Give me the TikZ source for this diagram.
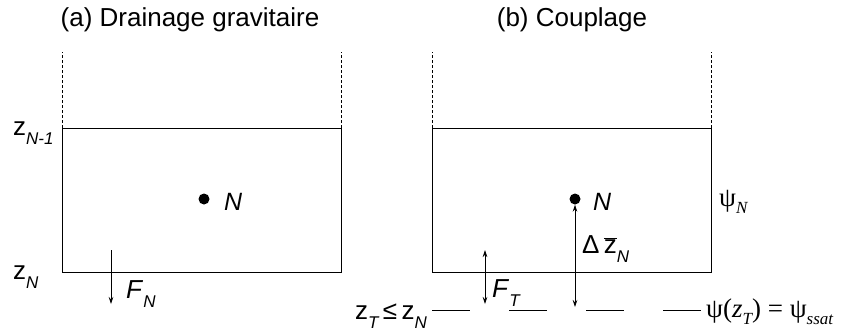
\documentclass[tikz,border=0pt]{standalone}
\usepackage{fontspec}
\setmainfont{Liberation Sans}
\newfontfamily\symbfont{Liberation Serif}
\usetikzlibrary{arrows.meta, positioning}

% subscripts sit well below the baseline in this figure
\newcommand{\lowsub}[1]{\raisebox{-9pt}{\fontsize{17}{17}\selectfont\itshape #1}}
\newcommand{\psisub}[1]{\raisebox{-7pt}{\fontsize{17}{17}\selectfont\itshape #1}}

\begin{document}
\begin{tikzpicture}[
  x=1pt, y=-1pt,
  >={Stealth[length=7pt,width=4.5pt]},
  wall/.style={draw, line width=0.8pt},
  open/.style={draw, line width=0.7pt, dash pattern=on 3pt off 2pt},
  dot/.style={circle, fill, inner sep=0pt, minimum size=11pt},
  flux/.style={draw, line width=0.7pt},
  lbl/.style={inner sep=0pt, anchor=base west, font=\fontsize{26}{28}\selectfont},
  ttl/.style={inner sep=0pt, anchor=base, font=\fontsize{26}{30}\selectfont},
  psi/.style={inner sep=0pt, anchor=base west, font=\symbfont\fontsize{27}{28}\selectfont}
  ]
  \useasboundingbox (0,0) rectangle (841,333);
  % (a) drainage
  \begin{scope}
  \coordinate (a-tl) at (62,128);
  \coordinate (a-br) at (341,272);
  \coordinate (a-tr) at (341,128);
  \coordinate (a-tlu) at (62,52);
  \coordinate (a-tru) at (341,52);
  \coordinate (a-f1) at (111,250);
  \coordinate (a-f2) at (111,304);
  \node[ttl] (a-title) at (190,26) {(a) Drainage gravitaire};
  \draw[wall] (a-tl) rectangle (a-br);
  \draw[open] (a-tl) -- (a-tlu);
  \draw[open] (a-tr) -- (a-tru);
  \node[dot] (a-N) at (204,199) {};
  \node[lbl, font=\fontsize{25}{28}\selectfont\itshape] (a-Nl) at (224,210) {N};
  \node[lbl] (a-ztop) at (13,135) {z\lowsub{N-1}};
  \node[lbl] (a-zbot) at (13,279) {z\lowsub{N}};
  \draw[flux,->] (a-f1) -- (a-f2);
  \node[lbl] (a-F) at (126,298) {\textit{F}\lowsub{N}};
  \end{scope}
  % (b) couplage
  \begin{scope}
  \coordinate (b-tl) at (432,128);
  \coordinate (b-br) at (711,272);
  \coordinate (b-tr) at (711,128);
  \coordinate (b-tlu) at (432,52);
  \coordinate (b-tru) at (711,52);
  \coordinate (b-f1) at (485,250);
  \coordinate (b-f2) at (485,304);
  \coordinate (b-d2) at (575,307);
  \coordinate (b-w1) at (432,310);
  \coordinate (b-w2) at (701,310);
  \node[ttl] (b-title) at (572,26) {(b) Couplage};
  \draw[wall] (b-tl) rectangle (b-br);
  \draw[open] (b-tl) -- (b-tlu);
  \draw[open] (b-tr) -- (b-tru);
  \node[dot] (b-N) at (575,199) {};
  \node[lbl, font=\fontsize{25}{28}\selectfont\itshape] (b-Nl) at (593,210) {N};
  \node[psi] (b-psi) at (719,206) {ψ\psisub{N}};
  \draw[flux,<->] (b-N.south) -- (b-d2);
  \node[lbl] (b-dz) at (582,253) {Δ\,$\overline{\mbox{z}}$\lowsub{N}};
  \draw[flux,<->] (b-f1) -- (b-f2);
  \node[lbl] (b-F) at (492,297) {\textit{F}\lowsub{T}};
  % water table
  \draw[line width=0.8pt, dash pattern=on 38pt off 39pt] (b-w1) -- (b-w2);
  \node[lbl, anchor=base east] (b-zt) at (427,319) {z\lowsub{T}\,≤\,z\lowsub{N}};
  \node[psi] (b-psit) at (706,317) {ψ(\textit{z}\psisub{T}) = ψ\psisub{ssat}};
  \end{scope}
\end{tikzpicture}
\end{document}
